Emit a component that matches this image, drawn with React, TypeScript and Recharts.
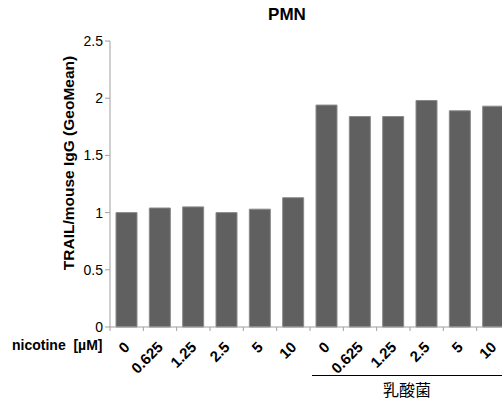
import React from 'react'
import { BarChart, Bar, XAxis, YAxis } from 'recharts'

const doses = ['0', '0.625', '1.25', '2.5', '5', '10', '0', '0.625', '1.25', '2.5', '5', '10']
const values = [1.0, 1.04, 1.05, 1.0, 1.03, 1.13, 1.94, 1.84, 1.84, 1.98, 1.89, 1.93]
const yTicks = [0, 0.5, 1, 1.5, 2, 2.5]

const data = doses.map((d, i) => ({ key: i, dose: d, value: values[i] }))

const FONT = '"Liberation Sans", Arial, sans-serif'
const BAND = 400 / doses.length

function XTick(props: any) {
  const { x, y, payload } = props
  const label = doses[payload.value]
  const left = x - BAND / 2
  const ax = x + 4
  const ay = y + 13
  return (
    <g>
      <line x1={left} y1={y - 8} x2={left} y2={y - 4} stroke="#a0a0a0" />
      <text
        x={ax}
        y={ay}
        textAnchor="end"
        transform={`rotate(-45 ${ax} ${ay})`}
        fontFamily={FONT}
        fontWeight="bold"
        fontSize={15}
        fill="#000"
      >
        {label}
      </text>
    </g>
  )
}

export default function App() {
  return (
    <div style={{ position: 'absolute', left: 0, top: 0, width: 502, height: 401, overflow: 'hidden', background: '#fff' }}>
      <BarChart
        width={520}
        height={401}
        data={data}
        margin={{ top: 41, right: 10, left: 0, bottom: 14 }}
      >
        <XAxis
          dataKey="key"
          interval={0}
          tick={<XTick />}
          tickLine={false}
          axisLine={{ stroke: '#a0a0a0' }}
          height={60}
        />
        <YAxis
          width={110}
          domain={[0, 2.5]}
          ticks={yTicks}
          tickSize={5}
          tickLine={{ stroke: '#a0a0a0' }}
          axisLine={{ stroke: '#a0a0a0' }}
          tick={{ fontSize: 14, fill: '#000', fontFamily: FONT }}
          tickFormatter={(v: number) => String(v)}
        />
        <Bar dataKey="value" barSize={21} fill="#606060" stroke="#8a8a8a" strokeWidth={1} isAnimationActive={false} />
      </BarChart>
      <div style={{ position: 'absolute', left: 237, top: 5, width: 100, textAlign: 'center', fontFamily: FONT, fontWeight: 'bold', fontSize: 17, lineHeight: '20px' }}>
        PMN
      </div>
      <div
        style={{
          position: 'absolute',
          left: 69,
          top: 163,
          transform: 'translate(-50%, -50%) rotate(-90deg)',
          whiteSpace: 'nowrap',
          fontFamily: FONT,
          fontWeight: 'bold',
          fontSize: 15.5,
        }}
      >
        TRAIL/mouse IgG (GeoMean)
      </div>
      <div style={{ position: 'absolute', left: 12, top: 337, fontFamily: FONT, fontWeight: 'bold', fontSize: 14, lineHeight: '16px', whiteSpace: 'nowrap' }}>
        nicotine&nbsp;&nbsp;[µM]
      </div>
      <div style={{ position: 'absolute', left: 312, top: 375, width: 200, borderTop: '1px solid #000' }} />
      <div style={{ position: 'absolute', left: 357, top: 381, width: 100, textAlign: 'center', fontFamily: '"Noto Sans CJK JP", sans-serif', fontSize: 16, lineHeight: '17px' }}>
        乳酸菌
      </div>
    </div>
  )
}
